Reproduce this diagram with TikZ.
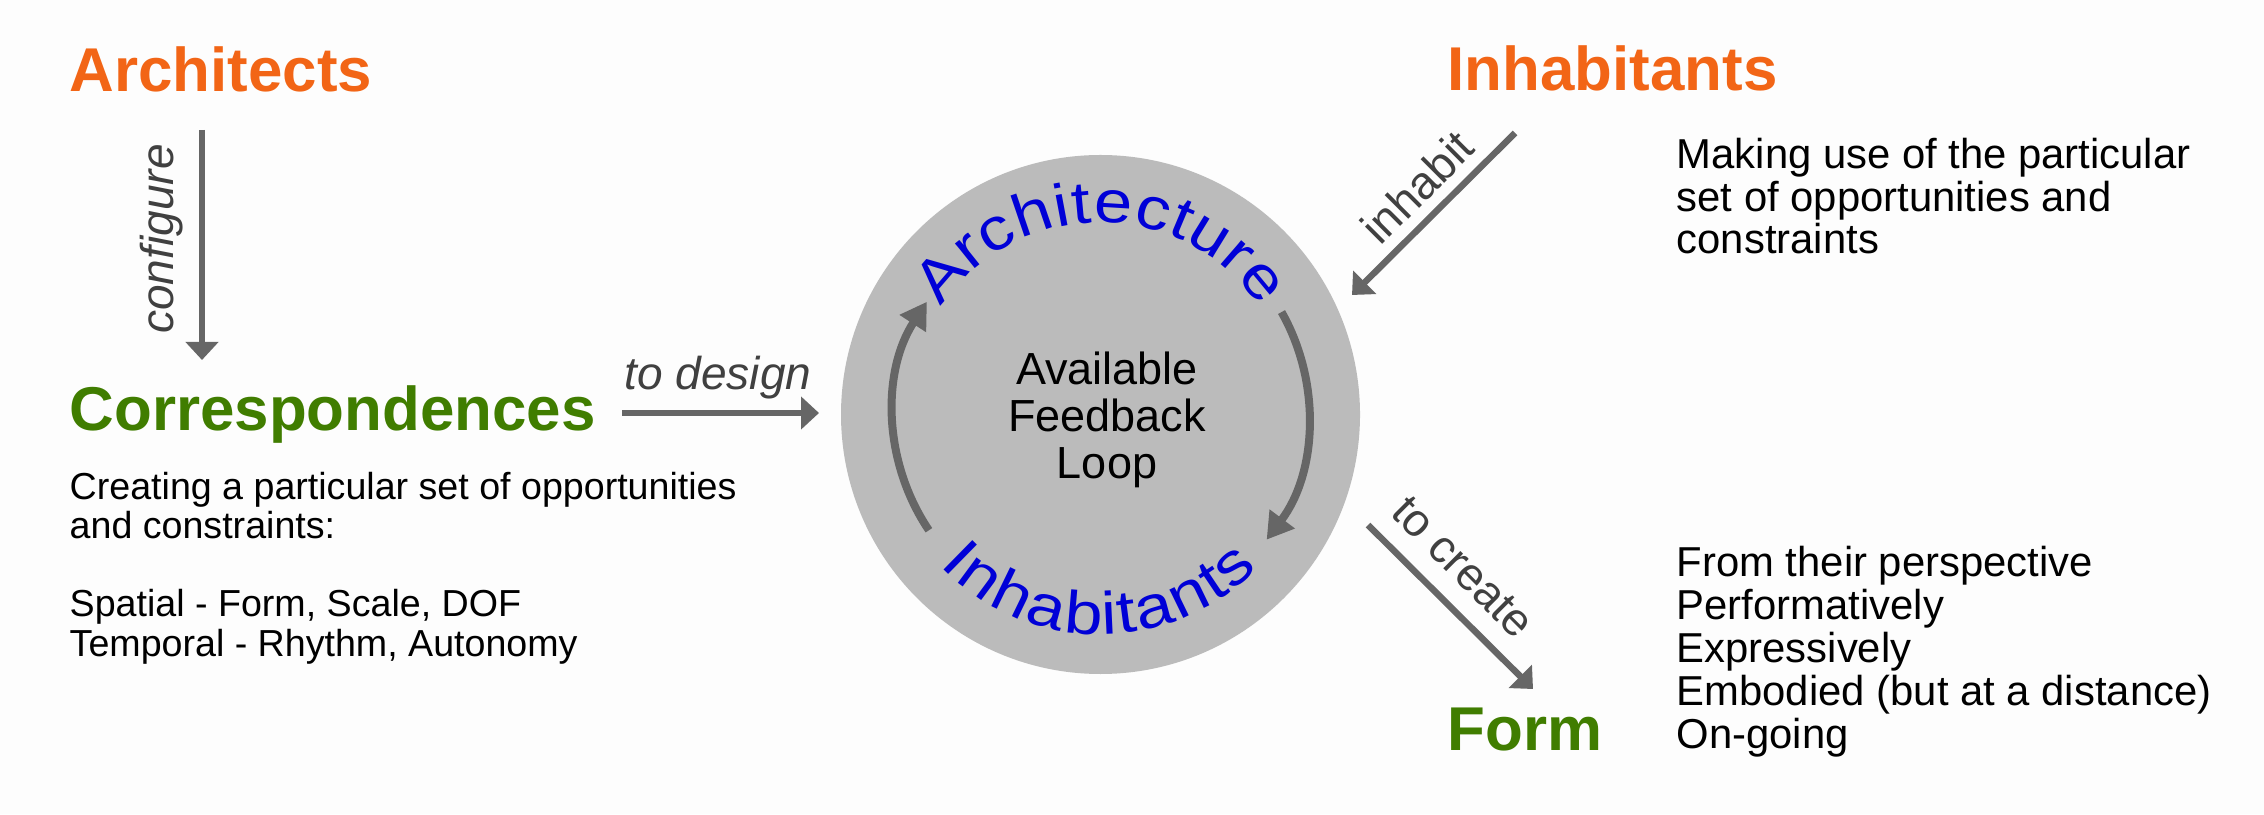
\documentclass[tikz,border=0pt]{standalone}
\usepackage{fontspec}
\setmainfont{Liberation Sans}
\newfontfamily\arcfont[FakeStretch=1.15]{Liberation Sans}
\usetikzlibrary{arrows.meta,decorations.text,positioning}
\definecolor{paper}{RGB}{253,253,253}
\definecolor{actororange}{RGB}{242,101,22}
\definecolor{resultgreen}{RGB}{64,125,0}
\definecolor{loopblue}{RGB}{0,0,215}
\definecolor{arrowgray}{RGB}{102,102,102}
\definecolor{discgray}{RGB}{187,187,187}
\definecolor{verbgray}{RGB}{64,64,64}

\begin{document}
\begin{tikzpicture}
      \tikzstyle{actor}=[anchor=base west, inner sep=0pt, font=\bfseries\fontsize{17.6}{20}\selectfont, text=actororange]
      \tikzstyle{result}=[actor, text=resultgreen]
      \tikzstyle{note}=[anchor=base west, inner sep=0pt, align=left, font=\fontsize{10.7}{11.1}\selectfont]
      \tikzstyle{rnote}=[note, font=\fontsize{11.9}{12.2}\selectfont]
      \tikzstyle{verb}=[inner sep=0pt, text=verbgray, font=\fontsize{13.1}{15}\selectfont]
      \tikzstyle{connect}=[-{Triangle[width=3.2mm,length=1.8mm]}, line width=0.65mm, draw=arrowgray]
      \tikzstyle{loopline}=[-{Triangle[width=3mm,length=2.6mm]}, line width=0.8mm, draw=arrowgray]

      \fill[paper] (0,0) rectangle (22.64,8.14);
      \useasboundingbox (0,0) rectangle (22.64,8.14);

      % the disc
      \coordinate (c) at (11.005,3.995);
      \fill[discgray] (c) circle (2.595);
      \node[align=center, inner sep=0pt, anchor=base, font=\fontsize{12.8}{13.5}\selectfont] (loop) at (11.07,3.35) {Available\\Feedback\\Loop};

      \path[decorate, decoration={text along path, text align={fit to path},
            text={|\arcfont\fontsize{17}{17}\selectfont\color{loopblue}|Architecture}}]
            (c) ++(146:1.92) arc[start angle=146, end angle=34, radius=1.92];
      \path[decorate, decoration={text along path, text align={fit to path}, raise=-1mm,
            text={|\arcfont\fontsize{17}{17}\selectfont\color{loopblue}|Inhabitants}}]
            (c) ++(223:2.10) arc[start angle=223, end angle=316, radius=2.10];

      \draw[loopline] (c) ++(214:2.07) arc[start angle=214, end angle=147, radius=2.07];
      \draw[loopline] (c) ++(29.5:2.08) arc[start angle=29.5, end angle=-37, radius=2.08];

      % left side
      \node[actor] (archs) at (0.69,7.22) {Architects};
      \node[result] (corr) at (0.69,3.83) {Correspondences};
      \node[note] (corrnote) at (0.69,1.58) {Creating a particular set of opportunities\\and constraints:\\[11.1pt]Spatial - Form, Scale, DOF\\Temporal - Rhythm, Autonomy};

      \coordinate (cfgtop) at (2.02,6.84);
      \coordinate (cfgbot) at (2.02,4.54);
      \draw[connect] (cfgtop) -- (cfgbot);
      \node[verb, rotate=90, font=\itshape\fontsize{13.1}{15}\selectfont] (configure) at (1.62,5.75) {configure};

      \coordinate (dsgfrom) at (6.22,4.01);
      \coordinate (dsgto) at (8.19,4.01);
      \draw[connect] (dsgfrom) -- (dsgto);
      \node[verb, anchor=base, font=\itshape\fontsize{13.1}{15}\selectfont] (design) at (7.18,4.24) {to design};

      % right side
      \node[actor] (inhabs) at (14.47,7.23) {Inhabitants};
      \node[rnote] (inhnote) at (16.76,5.60) {Making use of the particular\\set of opportunities and\\constraints};
      \node[result] (form) at (14.47,0.64) {Form};
      \node[rnote] (formnote) at (16.76,0.66) {From their perspective\\Performatively\\Expressively\\Embodied (but at a distance)\\On-going};

      \coordinate (inhfrom) at (15.15,6.81);
      \coordinate (inhto) at (13.52,5.19);
      \draw[connect] (inhfrom) -- (inhto);
      \node[verb, rotate=45] (inhabit) at (14.17,6.27) {inhabit};

      \coordinate (crtfrom) at (13.68,2.89);
      \coordinate (crtto) at (15.33,1.25);
      \draw[connect] (crtfrom) -- (crtto);
      \node[verb, rotate=-45] (create) at (14.63,2.47) {to create};
\end{tikzpicture}
\end{document}
